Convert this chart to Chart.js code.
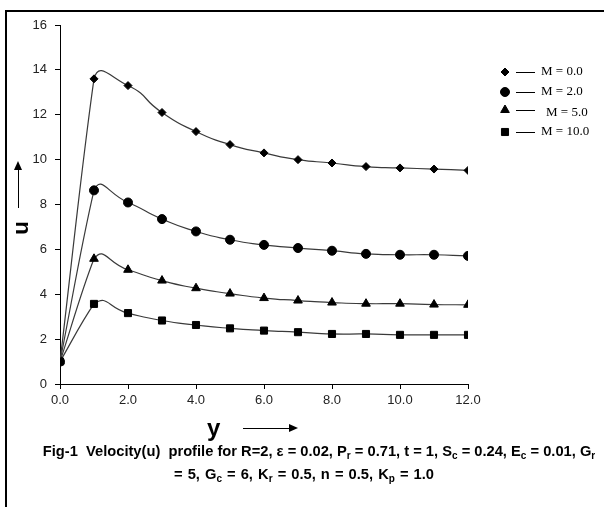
<!DOCTYPE html>
<html>
<head>
<meta charset="utf-8">
<script src="https://cdn.jsdelivr.net/npm/chart.js@4.4.1/dist/chart.umd.min.js"></script>
<style>
  html, body { margin: 0; padding: 0; background: #fff; overflow: hidden; }
  #wrap { position: relative; width: 604px; height: 507px; overflow: hidden; }
  #frame { position: absolute; left: 5px; top: 10px; width: 640px; height: 560px;
           border-left: 2px solid #000; border-top: 2px solid #000; box-sizing: border-box; }
  canvas { position: absolute; left: 0; top: 0; }
  .lbl { position: absolute; font-family: "Liberation Sans", Arial, sans-serif; font-weight: bold; color: #000; }
  #ylab { left: 207px; top: 414px; font-size: 24px; }
  #yarrow { position: absolute; left: 243px; top: 428px; width: 48px; height: 1px; background: #000; }
  #yhead { position: absolute; left: 289px; top: 424px; width: 0; height: 0;
           border-top: 4px solid transparent; border-bottom: 4px solid transparent; border-left: 9px solid #000; }
  #ulab { left: 14px; top: 215px; font-size: 22px; transform: rotate(-90deg); transform-origin: center; }
  #uarrow { position: absolute; left: 18px; top: 168px; width: 1px; height: 40px; background: #000; }
  #uhead { position: absolute; left: 14px; top: 161px; width: 0; height: 0;
           border-left: 4px solid transparent; border-right: 4px solid transparent; border-bottom: 9px solid #000; }
  .cap { position: absolute; left: 0; width: 604px; text-align: center; font-size: 14.7px; white-space: nowrap; }
  .cap sub { font-size: 10px; vertical-align: -3px; }
</style>
</head>
<body>
<div id="wrap">
  <div id="frame"></div>
  <canvas id="chartVel" width="604" height="507"></canvas>
  <div class="lbl" id="ylab">y</div>
  <div id="yarrow"></div><div id="yhead"></div>
  <div class="lbl" id="ulab">u</div>
  <div id="uarrow"></div><div id="uhead"></div>
  <div class="lbl cap" style="top: 443px; left: 17px;">Fig-1&nbsp; Velocity(u)&nbsp; profile for R=2, ε = 0.02, P<sub>r</sub> = 0.71, t = 1, S<sub>c</sub> = 0.24, E<sub>c</sub> = 0.01, G<sub>r</sub></div>
  <div class="lbl cap" style="top: 466px; left: 2px; word-spacing: 1px;">= 5, G<sub>c</sub> = 6, K<sub>r</sub> = 0.5, n = 0.5, K<sub>p</sub> = 1.0</div>
</div>
<script>
const yValues = [0, 1, 2, 3, 4, 5, 6, 7, 8, 9, 10, 11, 12];
const seriesLabels = ["M = 0.0", "M = 2.0", "M = 5.0", "M = 10.0"];
const uM0 = [1.0, 13.6, 13.3, 12.1, 11.25, 10.67, 10.3, 10.0, 9.85, 9.69, 9.63, 9.58, 9.52];
const uM2 = [1.0, 8.63, 8.09, 7.35, 6.8, 6.43, 6.2, 6.06, 5.94, 5.8, 5.76, 5.76, 5.71];
const uM5 = [1.0, 5.58, 5.09, 4.61, 4.27, 4.03, 3.83, 3.72, 3.63, 3.58, 3.58, 3.54, 3.53];
const uM10 = [1.0, 3.57, 3.16, 2.83, 2.63, 2.48, 2.38, 2.31, 2.23, 2.23, 2.19, 2.19, 2.19];

const markerStyles = ["rectRot", "circle", "triangle", "rect"];
const markerSizes = [4, 4.5, 5, 5];

const tickFont = { family: "'Liberation Sans', Arial, sans-serif", size: 13 };

function toPoints(arr) {
    return yValues.map((x, i) => ({ x: x, y: arr[i] }));
}

const datasets = [uM0, uM2, uM5, uM10].map((arr, i) => ({
    label: seriesLabels[i],
    data: toPoints(arr),
    borderColor: "#3a3a3a",
    borderWidth: 1.2,
    tension: 0.6,
    pointStyle: markerStyles[i],
    pointRadius: markerSizes[i],
    pointBackgroundColor: "#000",
    pointBorderColor: "#000",
    pointBorderWidth: 1,
    fill: false,
}));

// first rise (0 -> 1) is drawn nearly straight, the smoothing starts after it
const straightStart = {
    id: "straightStart",
    beforeDatasetsDraw(chart) {
        chart.getSortedVisibleDatasetMetas().forEach(meta => {
            const line = meta.dataset;
            line.updateControlPoints(chart.chartArea, "x");
            const p = line.points;
            const a = p[0], b = p[1];
            a.cp2x = a.x + (b.x - a.x) / 3;
            a.cp2y = a.y + (b.y - a.y) / 3;
            b.cp1x = b.x - (b.x - a.x) / 3 - 2;
            b.cp1y = b.y - (b.y - a.y) / 3;
        });
    }
};

// legend: marker, short line, serif text
const legendRows = [72, 92, 110, 132];
const legendPlugin = {
    id: "sideLegend",
    afterDraw(chart) {
        const ctx = chart.ctx;
        ctx.save();
        chart.data.datasets.forEach((ds, i) => {
            const y = legendRows[i];
            ctx.fillStyle = "#000";
            ctx.strokeStyle = "#000";
            Chart.helpers.drawPoint(ctx, {
                pointStyle: ds.pointStyle,
                radius: ds.pointRadius,
                rotation: 0,
                borderWidth: 1,
            }, 505, y);
            ctx.beginPath();
            ctx.lineWidth = 1;
            ctx.moveTo(516, y + 0.5);
            ctx.lineTo(535, y + 0.5);
            ctx.stroke();
            ctx.font = "13px 'Liberation Serif', 'Times New Roman', serif";
            ctx.textBaseline = "middle";
            ctx.fillText(ds.label, i === 2 ? 546 : 541, i === 2 ? y + 3 : y);
        });
        ctx.restore();
    }
};

const configVel = {
    type: "line",
    data: { datasets: datasets },
    options: {
        responsive: false,
        animation: false,
        layout: { padding: { top: 25, right: 136, bottom: 93, left: 0 } },
        plugins: { legend: { display: false }, tooltip: { enabled: false } },
        scales: {
            x: {
                type: "linear",
                min: 0,
                max: 12,
                ticks: { stepSize: 2, color: "#222", font: tickFont, padding: 4,
                         callback: v => v.toFixed(1) },
                grid: { drawOnChartArea: false, tickLength: 5, color: "#000" },
                border: { color: "#000", width: 1 },
                afterFit: s => { s.height = 30; },
            },
            y: {
                min: 0,
                max: 16,
                ticks: { stepSize: 2, color: "#222", font: tickFont, padding: 8 },
                grid: { drawOnChartArea: false, tickLength: 5, color: "#000" },
                border: { color: "#000", width: 1 },
                afterFit: s => { s.width = 60; },
            },
        },
    },
    plugins: [straightStart, legendPlugin],
};

var chartVel = new Chart(document.getElementById("chartVel"), configVel);
</script>
</body>
</html>
